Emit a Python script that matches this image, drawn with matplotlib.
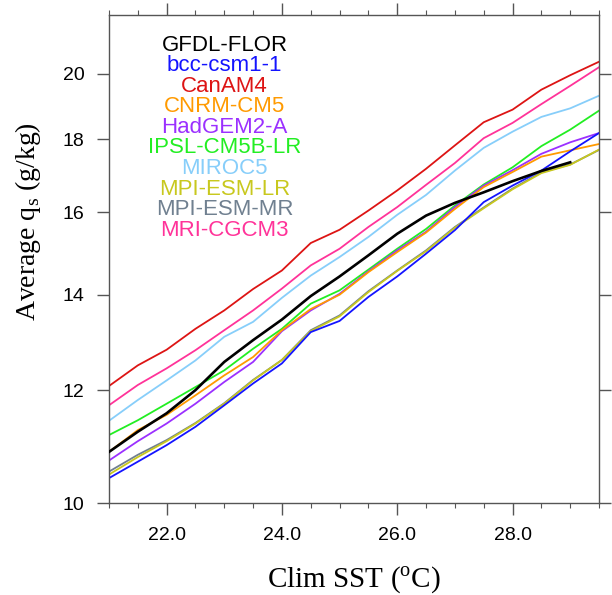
import matplotlib
matplotlib.use("Agg")
import matplotlib.pyplot as plt
from matplotlib.ticker import FixedLocator, NullLocator, MultipleLocator, FormatStrFormatter

plt.rcParams['mathtext.fontset'] = 'custom'
plt.rcParams['mathtext.rm'] = 'Liberation Serif'

# climatological SST bins (deg C)
sst = [21.0, 21.5, 22.0, 22.5, 23.0, 23.5, 24.0, 24.5, 25.0,
       25.5, 26.0, 26.5, 27.0, 27.5, 28.0, 28.5, 29.0, 29.5]

# average saturation specific humidity (g/kg) per model
gfdl_flor = [10.86, 11.22, 11.56, 12.00, 12.56, 13.01, 13.45, 13.97, 14.42,
             14.92, 15.45, 15.91, 16.24, 16.52, 16.82, 17.10, 17.34]
bcc_csm = [10.41, 10.69, 10.98, 11.31, 11.71, 12.13, 12.53, 13.18, 13.42,
           13.95, 14.42, 14.96, 15.54, 16.26, 16.70, 17.11, 17.65, 18.18]
canam4 = [12.08, 12.49, 12.81, 13.25, 13.65, 14.13, 14.56, 15.22, 15.55,
          16.04, 16.57, 17.16, 17.82, 18.50, 18.88, 19.50, 19.96, 20.40]
cnrm_cm5 = [10.86, 11.25, 11.53, 11.90, 12.29, 12.66, 13.22, 13.68, 14.00,
            14.52, 15.00, 15.48, 16.08, 16.66, 17.07, 17.50, 17.68, 17.86]
hadgem2 = [10.71, 11.05, 11.37, 11.74, 12.16, 12.56, 13.20, 13.65, 14.02,
           14.54, 15.04, 15.50, 16.13, 16.70, 17.12, 17.58, 17.91, 18.18]
ipsl = [11.16, 11.43, 11.74, 12.06, 12.39, 12.83, 13.25, 13.80, 14.10,
        14.58, 15.08, 15.57, 16.17, 16.73, 17.20, 17.80, 18.28, 18.85]
miroc5 = [11.42, 11.81, 12.19, 12.59, 13.08, 13.40, 13.93, 14.44, 14.88,
          15.37, 15.93, 16.45, 17.11, 17.75, 18.22, 18.66, 18.92, 19.31]
mpi_lr = [10.47, 10.77, 11.05, 11.37, 11.74, 12.19, 12.60, 13.20, 13.52,
          14.06, 14.55, 15.02, 15.60, 16.10, 16.60, 17.04, 17.27, 17.70]
mpi_mr = [10.52, 10.81, 11.07, 11.38, 11.75, 12.20, 12.60, 13.22, 13.54,
          14.08, 14.56, 15.04, 15.62, 16.12, 16.62, 17.06, 17.28, 17.69]
mri = [11.71, 12.10, 12.43, 12.80, 13.22, 13.65, 14.14, 14.68, 15.08,
       15.62, 16.13, 16.72, 17.32, 18.03, 18.48, 19.05, 19.62, 20.22]

names = ['GFDL-FLOR', 'bcc-csm1-1', 'CanAM4', 'CNRM-CM5', 'HadGEM2-A',
         'IPSL-CM5B-LR', 'MIROC5', 'MPI-ESM-LR', 'MPI-ESM-MR', 'MRI-CGCM3']
series = [gfdl_flor, bcc_csm, canam4, cnrm_cm5, hadgem2,
          ipsl, miroc5, mpi_lr, mpi_mr, mri]
colors = ['black', '#1414ff', '#dd1414', '#ff9a00', '#9b30ff',
          '#22ee22', '#87cefa', '#c8c81e', '#708090', '#ff3399']

yticks = [10, 12, 14, 16, 18, 20]

fig = plt.figure(figsize=(6.12, 5.95), dpi=100)
ax = fig.add_axes([0.178, 0.1546, 0.8008, 0.8202])

# draw coloured models first, black on top
for i in range(len(names) - 1, -1, -1):
    y = series[i]
    lw = 1.9 if i == 0 else 1.3
    ax.plot(sst[:len(y)], y, color=colors[i], lw=lw, zorder=3 if i == 0 else 2)

ax.set_yscale('log')
ax.set_xlim(21.0, 29.5)
ax.set_ylim(10, 22)
ax.yaxis.set_major_locator(FixedLocator(yticks))
ax.yaxis.set_minor_locator(NullLocator())
ax.yaxis.set_major_formatter(FormatStrFormatter('%d'))
ax.xaxis.set_major_locator(FixedLocator([22, 24, 26, 28]))
ax.xaxis.set_minor_locator(MultipleLocator(0.5))
ax.xaxis.set_major_formatter(FormatStrFormatter('%.1f'))

for s in ax.spines.values():
    s.set_color('#555555')
    s.set_linewidth(1.0)
ax.tick_params(which='major', direction='out', length=8.5, width=1.0,
               color='#555555', top=True, right=True, labelsize=14, pad=9)
ax.tick_params(which='minor', direction='out', length=3.5, width=0.8,
               color='#555555', top=True, right=True)
for lab in ax.get_xticklabels() + ax.get_yticklabels():
    lab.set_family('Liberation Sans')

ax.set_xlabel(r'Clim SST ($^{\mathrm{o}}$C)', family='Liberation Serif',
              fontsize=21)
ax.set_ylabel(r'Average q$_{\mathrm{s}}$ (g/kg)', family='Liberation Serif',
              fontsize=20)
ax.xaxis.set_label_coords(0.5, -0.126)
ax.yaxis.set_label_coords(-0.135, 0.576)

# stacked coloured model names
for i, nm in enumerate(names):
    ax.text(0.236, 0.9385 - i * 0.0422, nm, transform=ax.transAxes,
            ha='center', va='center', color=colors[i], fontsize=16,
            family='Liberation Sans')

fig.savefig('out.png', dpi=100)
